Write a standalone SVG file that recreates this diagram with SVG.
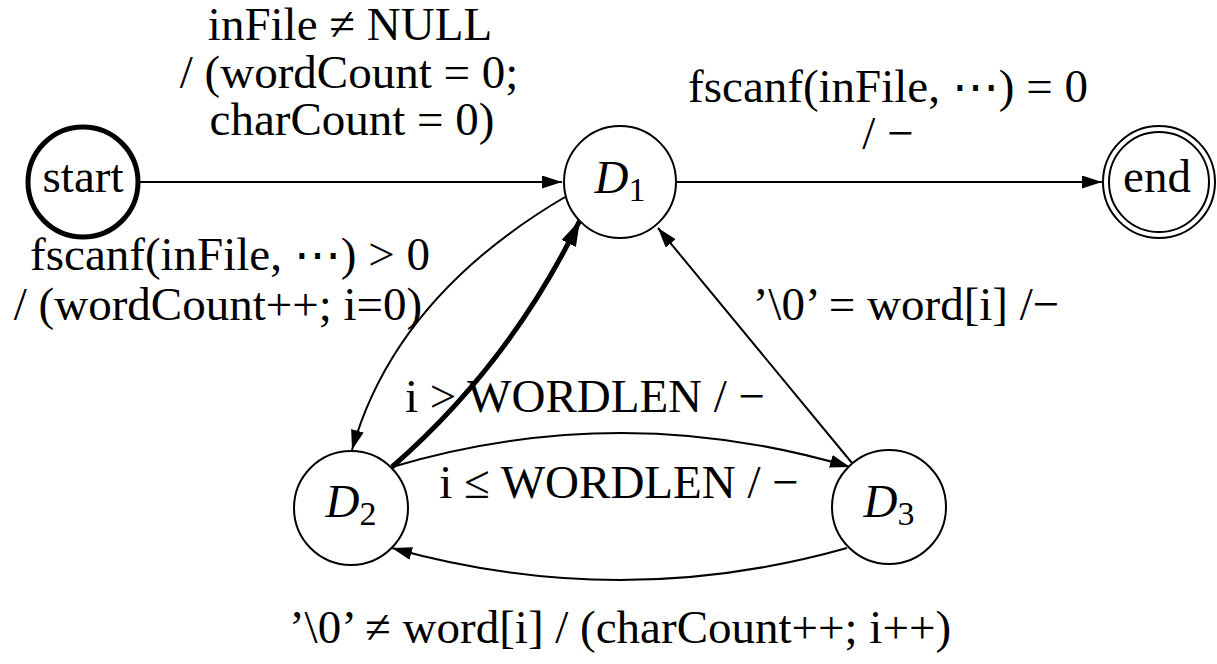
<svg xmlns="http://www.w3.org/2000/svg" width="1217" height="664" viewBox="0 0 1217 664">
<style>
text{font-family:'Liberation Serif','Times New Roman',serif;font-size:47px;fill:#000}
.c{text-anchor:middle}
.node{fill:#fff;stroke:#000;stroke-width:2}
.e{fill:none;stroke:#000;stroke-width:2}
.thick{fill:none;stroke:#000;stroke-width:5}
.sub{font-size:34px}
</style>
<defs>
<marker id="a" markerUnits="userSpaceOnUse" markerWidth="24" markerHeight="16" refX="20" refY="6.5" orient="auto" viewBox="0 0 24 16"><path d="M0,0 L20,6.5 L0,13 z" fill="#000"/></marker>
<marker id="ab" markerUnits="userSpaceOnUse" markerWidth="30" markerHeight="20" refX="26" refY="8" orient="auto" viewBox="0 0 30 20"><path d="M0,0 L26,8 L0,16 z" fill="#000"/></marker>
</defs>
<g id="connectors">
<path class="e" d="M140,182 L562,182" marker-end="url(#a)"/>
<path class="e" d="M677,182 L1102,182" marker-end="url(#a)"/>
<path class="e" d="M565,197 Q395,297 352,450" marker-end="url(#a)"/>
<path class="thick" d="M392,467 Q511,363 580,220" marker-end="url(#ab)"/>
<path class="e" d="M392,467 Q621,399 850,467" marker-end="url(#a)"/>
<path class="e" d="M852,463 L658,228" marker-end="url(#a)"/>
<path class="e" d="M847,548 Q620,612 392,548" marker-end="url(#a)"/>
</g>
<g id="labels">
<text class="c" x="350" y="40">inFile ≠ NULL</text>
<text class="c" x="349" y="88">/ (wordCount = 0;</text>
<text class="c" x="352" y="135">charCount = 0)</text>
<text class="c" x="888" y="102">fscanf(inFile, ⋯) = 0</text>
<text class="c" x="888" y="149">/ −</text>
<text class="c" x="230" y="270">fscanf(inFile, ⋯) &gt; 0</text>
<text class="c" x="218" y="320">/ (wordCount++; i=0)</text>
<text class="c" x="906" y="320">’\0’ = word[i] /−</text>
<text class="c" x="585" y="412">i &gt; WORDLEN / −</text>
<text class="c" x="619" y="498">i ≤ WORDLEN / −</text>
<text class="c" x="620" y="643">’\0’ ≠ word[i] / (charCount++; i++)</text>
</g>
<g id="start">
<circle cx="83" cy="182" r="55" fill="#fff" stroke="#000" stroke-width="5"/>
<text class="c" x="83" y="192">start</text>
</g>
<g id="D1">
<circle class="node" cx="620" cy="182" r="56"/>
<text class="c" x="620" y="193"><tspan font-style="italic">D</tspan><tspan class="sub" dy="8">1</tspan></text>
</g>
<g id="end">
<circle class="node" cx="1159" cy="182" r="56"/>
<circle class="node" cx="1159" cy="182" r="50"/>
<text class="c" x="1157" y="192">end</text>
</g>
<g id="D2">
<circle class="node" cx="351" cy="508" r="57"/>
<text class="c" x="351" y="517"><tspan font-style="italic">D</tspan><tspan class="sub" dy="8">2</tspan></text>
</g>
<g id="D3">
<circle class="node" cx="889" cy="507" r="57"/>
<text class="c" x="889" y="517"><tspan font-style="italic">D</tspan><tspan class="sub" dy="8">3</tspan></text>
</g>
</svg>
